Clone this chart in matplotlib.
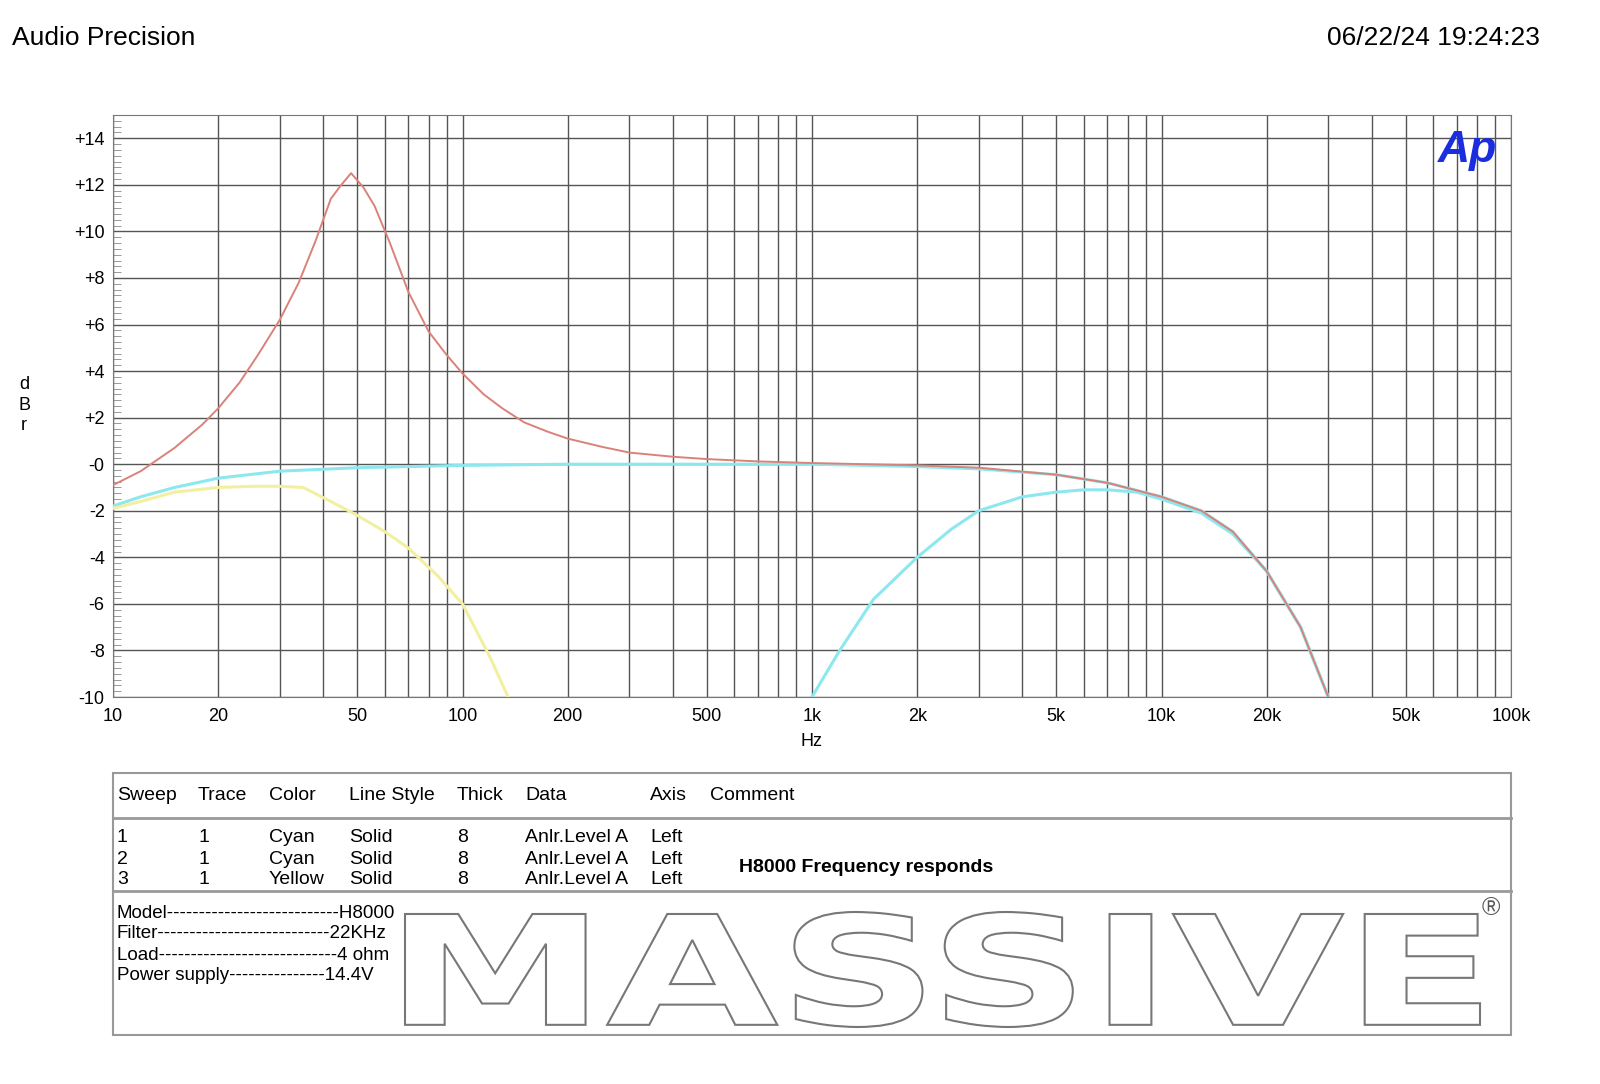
import matplotlib
matplotlib.use("Agg")
import matplotlib.pyplot as plt
import numpy as np
from matplotlib.textpath import TextPath
from matplotlib.font_manager import FontProperties
from matplotlib.patches import PathPatch, Rectangle
from matplotlib.transforms import Affine2D
from matplotlib.ticker import FixedLocator, NullFormatter, MultipleLocator

plt.rcParams['font.family'] = ['Liberation Sans', 'DejaVu Sans']

red_f = [10, 12, 15, 18, 20, 23, 26, 30, 34, 38, 42, 45, 48, 52, 56, 62, 70, 80, 90, 100, 115, 130, 150, 175, 200, 250, 300, 400, 500, 700, 1000, 2000, 3000, 5000, 7000, 10000, 13000, 16000, 20000, 25000, 30000]
red_db = [-0.9, -0.3, 0.7, 1.7, 2.4, 3.5, 4.7, 6.2, 7.8, 9.6, 11.4, 12.0, 12.5, 11.9, 11.1, 9.5, 7.4, 5.7, 4.7, 3.9, 3.0, 2.4, 1.8, 1.4, 1.1, 0.75, 0.5, 0.32, 0.22, 0.12, 0.05, -0.05, -0.15, -0.45, -0.8, -1.4, -2.0, -2.9, -4.6, -7.0, -10.0]
cyan1_f = [10, 12, 15, 20, 30, 50, 100, 200, 500, 1000, 2000, 3000, 5000, 7000, 10000, 13000, 16000, 20000, 25000, 30000]
cyan1_db = [-1.8, -1.4, -1.0, -0.6, -0.3, -0.15, -0.05, 0.0, 0.0, 0.0, -0.1, -0.2, -0.45, -0.8, -1.4, -2.0, -2.9, -4.6, -7.0, -10.0]
cyan2_f = [1000, 1200, 1500, 2000, 2500, 3000, 4000, 5000, 6000, 7000, 8500, 10000, 13000, 16000, 20000, 25000, 30000]
cyan2_db = [-10.0, -8.0, -5.8, -4.0, -2.8, -2.0, -1.4, -1.2, -1.1, -1.1, -1.2, -1.5, -2.1, -3.0, -4.6, -7.0, -10.0]
yel_f = [10, 12, 15, 20, 25, 30, 35, 42, 50, 60, 70, 85, 100, 120, 135]
yel_db = [-1.9, -1.6, -1.2, -1.0, -0.95, -0.95, -1.0, -1.6, -2.2, -2.9, -3.6, -4.8, -6.0, -8.3, -10.0]

xticks = [10, 20, 50, 100, 200, 500, 1000, 2000, 5000, 10000, 20000, 50000, 100000]
xlabels = ["10", "20", "50", "100", "200", "500", "1k", "2k", "5k", "10k", "20k", "50k", "100k"]
yticks = list(range(-10, 15, 2))
ylabels = ["-10", "-8", "-6", "-4", "-2", "-0", "+2", "+4", "+6", "+8", "+10", "+12", "+14"]

fig = plt.figure(figsize=(16, 10.84), dpi=100)
ax = fig.add_axes([113/1600, 1-697/1084, (1511-113)/1600, (697-115)/1084])
ax.set_xscale("log")
ax.set_xlim(10, 100000)
ax.set_ylim(-10, 15)
grid = []
for d in [10, 100, 1000, 10000]:
    grid += [d*k for k in range(1, 10)]
grid.append(100000)
for g in grid:
    ax.axvline(g, color="#555555", lw=1.0, zorder=1)
for y in range(-10, 16, 2):
    ax.axhline(y, color="#555555", lw=1.0, zorder=1)
ax.xaxis.set_major_locator(FixedLocator(xticks))
ax.set_xticklabels(xlabels)
ax.xaxis.set_minor_formatter(NullFormatter())
ax.tick_params(axis="x", which="both", length=0, labelsize=13, pad=8)
ax.set_yticks(yticks)
ax.set_yticklabels(ylabels)
ax.yaxis.set_minor_locator(MultipleLocator(0.25))
ax.tick_params(axis="y", which="major", length=0, labelsize=13, pad=6)
ax.tick_params(axis="y", which="minor", direction="in", length=6, color="#888888")
for s in ax.spines.values():
    s.set_color("#777777")

ax.plot(cyan1_f, cyan1_db, color="#8ce8ee", lw=2.2, zorder=3)
ax.plot(cyan2_f, cyan2_db, color="#8ce8ee", lw=2.2, zorder=3)
ax.plot(yel_f, yel_db, color="#f2f0a0", lw=2.2, zorder=3)
ax.plot(red_f, red_db, color="#d9827a", lw=1.4, zorder=4)

ax.set_xlabel("Hz", fontsize=13, labelpad=6)
fig.text(24/1600, 1-405/1084, "d\nB\nr", fontsize=13, ha="center", va="center", linespacing=1.3)
ax.text(0.99, 0.975, "Ap", transform=ax.transAxes, ha="right", va="top", fontsize=32,
        color="#1a2ee0", fontweight="bold", fontstyle="italic")

fig.text(12/1600, 1-38/1084, "Audio Precision", fontsize=19, va="center")
fig.text(1540/1600, 1-38/1084, "06/22/24 19:24:23", fontsize=19, va="center", ha="right")

def fx(p): return p/1600
def fy(p): return 1-p/1084
fig.patches.append(Rectangle((fx(113), fy(1035)), fx(1511)-fx(113), fy(773)-fy(1035),
                             transform=fig.transFigure, fill=False, ec="#999999", lw=1.5))
for yl in [818, 891]:
    fig.add_artist(plt.Line2D([fx(113), fx(1511)], [fy(yl), fy(yl)], transform=fig.transFigure, color="#999999", lw=2))

headers = ["Sweep", "Trace", "Color", "Line Style", "Thick", "Data", "Axis", "Comment"]
hx = [117, 198, 269, 349, 457, 525, 650, 710]
for h, x in zip(headers, hx):
    fig.text(fx(x), fy(796), h, fontsize=14, va="center")
sweeps = ["1", "2", "3"]
traces = ["1", "1", "1"]
colors = ["Cyan", "Cyan", "Yellow"]
styles = ["Solid", "Solid", "Solid"]
thick = ["8", "8", "8"]
data = ["Anlr.Level A"] * 3
axis = ["Left"] * 3
rowy = [838, 859, 880]
for i, y in enumerate(rowy):
    for v, x in zip([sweeps[i], traces[i], colors[i], styles[i], thick[i], data[i], axis[i]],
                    [117, 198, 269, 349, 457, 525, 650]):
        fig.text(fx(x), fy(y), v, fontsize=14, va="center")
fig.text(fx(739), fy(868), "H8000 Frequency responds", fontsize=14, va="center", fontweight="bold")

spec = ["Model---------------------------H8000", "Filter---------------------------22KHz",
        "Load----------------------------4 ohm", "Power supply---------------14.4V"]
for i, s in enumerate(spec):
    fig.text(fx(117), fy(913 + i*21), s, fontsize=13.5, va="center")

tp = TextPath((0, 0), "MASSIVE", prop=FontProperties(family="DejaVu Sans", weight="bold"))
ext = tp.get_extents()
x0, x1, y0, y1 = fx(405), fx(1480), fy(1027), fy(912)
tr = Affine2D().translate(-ext.x0, -ext.y0).scale((x1-x0)/ext.width, (y1-y0)/ext.height).translate(x0, y0) + fig.transFigure
fig.patches.append(PathPatch(tp, transform=tr, fc="white", ec="#777777", lw=1.5))
fig.text(fx(1491), fy(908), "®", fontsize=18, ha="center", va="center", color="#555555")

fig.savefig("out.png", dpi=100, facecolor="white")
